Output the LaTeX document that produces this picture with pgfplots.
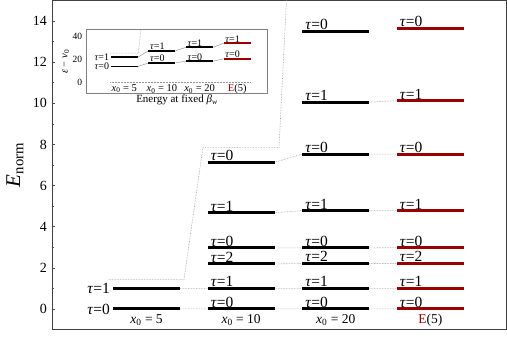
\documentclass[border=0pt]{standalone}
\usepackage{pgfplots}
\pgfplotsset{compat=1.18}
\usepackage{fontspec}
\setmainfont{Liberation Serif}
\definecolor{dred}{RGB}{153,0,0}
\definecolor{conn}{RGB}{150,150,150}
\newcommand{\ta}[1]{\textit{τ}=#1}
\newcommand{\xz}[1]{\textit{x}\textsubscript{0} = #1}
\tikzset{
 mt/.style={font=\fontsize{15.5}{17}\selectfont},
 mx/.style={font=\fontsize{13.5}{15}\selectfont},
 it/.style={font=\fontsize{10}{11}\selectfont},
 ix/.style={font=\fontsize{10.5}{12}\selectfont},
}
\begin{document}
\begin{tikzpicture}
\begin{axis}[
 at={(0,0)}, anchor=south west,
 scale only axis, width=454pt, height=329pt,
 xmin=-1, xmax=3.8, ymin=-1, ymax=15,
 xtick=\empty,
 ytick={0,2,...,14}, minor ytick={1,3,...,13},
 ytick pos=left,
 major tick length=3pt, minor tick length=2pt,
 tick style={black!70, line width=0.5pt},
 axis line style={black!75, line width=0.8pt},
 /pgf/number format/assume math mode=true,
 yticklabel style={font=\fontsize{14}{16}\selectfont, xshift=-1.5pt},
 ylabel={\textit{E}\textsubscript{norm}},
 ylabel style={font=\fontsize{21}{24}\selectfont, at={(axis description cs:-0.0815,0.5)}, anchor=center},
 unbounded coords=jump,
]
% threshold line
\addplot[conn, densely dotted, line width=0.6pt] coordinates {(-0.40,1.42) (0.395,1.42) (0.596,7.86) (1.40,7.86) (1.49,16)};
% connectors
\addplot[conn, densely dotted, line width=0.6pt] coordinates {
 (0.355,0) (0.645,0) (0.5,nan)
 (0.355,1) (0.645,1) (0.5,nan)
 (1.355,0) (1.645,0) (1.5,nan)
 (1.355,1) (1.645,1) (1.5,nan)
 (1.355,2.19) (1.645,2.21) (1.5,nan)
 (1.355,2.97) (1.645,2.97) (1.5,nan)
 (1.355,4.68) (1.645,4.78) (1.5,nan)
 (1.355,7.13) (1.645,7.53) (1.5,nan)
 (2.355,0) (2.645,0) (2.5,nan)
 (2.355,1) (2.645,1) (2.5,nan)
 (2.355,2.21) (2.645,2.21) (2.5,nan)
 (2.355,2.97) (2.645,2.98) (2.5,nan)
 (2.355,4.78) (2.645,4.78) (2.5,nan)
 (2.355,7.53) (2.645,7.53) (2.5,nan)
 (2.355,10.06) (2.645,10.13)};
% x0 = 5
\addplot[black, line width=3pt] coordinates {(-0.355,0) (0.355,0)};
\addplot[black, line width=3pt] coordinates {(-0.355,1) (0.355,1)};
% x0 = 10
\addplot[black, line width=3pt] coordinates {(0.645,0) (1.355,0)};
\addplot[black, line width=3pt] coordinates {(0.645,1) (1.355,1)};
\addplot[black, line width=3pt] coordinates {(0.645,2.19) (1.355,2.19)};
\addplot[black, line width=3pt] coordinates {(0.645,2.97) (1.355,2.97)};
\addplot[black, line width=3pt] coordinates {(0.645,4.68) (1.355,4.68)};
\addplot[black, line width=3pt] coordinates {(0.645,7.13) (1.355,7.13)};
% x0 = 20
\addplot[black, line width=3pt] coordinates {(1.645,0) (2.355,0)};
\addplot[black, line width=3pt] coordinates {(1.645,1) (2.355,1)};
\addplot[black, line width=3pt] coordinates {(1.645,2.21) (2.355,2.21)};
\addplot[black, line width=3pt] coordinates {(1.645,2.97) (2.355,2.97)};
\addplot[black, line width=3pt] coordinates {(1.645,4.78) (2.355,4.78)};
\addplot[black, line width=3pt] coordinates {(1.645,7.53) (2.355,7.53)};
\addplot[black, line width=3pt] coordinates {(1.645,10.06) (2.355,10.06)};
\addplot[black, line width=3pt] coordinates {(1.645,13.51) (2.355,13.51)};
% E(5)
\addplot[dred, line width=3pt] coordinates {(2.645,0) (3.355,0)};
\addplot[dred, line width=3pt] coordinates {(2.645,1) (3.355,1)};
\addplot[dred, line width=3pt] coordinates {(2.645,2.21) (3.355,2.21)};
\addplot[dred, line width=3pt] coordinates {(2.645,2.98) (3.355,2.98)};
\addplot[dred, line width=3pt] coordinates {(2.645,4.78) (3.355,4.78)};
\addplot[dred, line width=3pt] coordinates {(2.645,7.53) (3.355,7.53)};
\addplot[dred, line width=3pt] coordinates {(2.645,10.13) (3.355,10.13)};
\addplot[dred, line width=3pt] coordinates {(2.645,13.64) (3.355,13.64)};
% labels x0=5
\node[mt, anchor=east, inner sep=1pt, xshift=-2pt] at (axis cs:-0.355,0) {\ta{0}};
\node[mt, anchor=east, inner sep=1pt, xshift=-2pt] at (axis cs:-0.355,1) {\ta{1}};
% labels others
\foreach \xx/\yy/\tt in {0.645/0/0, 0.645/1/1, 0.645/2.19/2, 0.645/2.97/0, 0.645/4.68/1, 0.645/7.13/0,
 1.645/0/0, 1.645/1/1, 1.645/2.21/2, 1.645/2.97/0, 1.645/4.78/1, 1.645/7.53/0, 1.645/10.06/1, 1.645/13.51/0,
 2.645/0/0, 2.645/1/1, 2.645/2.21/2, 2.645/2.98/0, 2.645/4.78/1, 2.645/7.53/0, 2.645/10.13/1, 2.645/13.64/0}{
 \edef\temp{\noexpand\node[mt, anchor=base west, inner sep=0pt, xshift=3pt, yshift=1.6pt] at (axis cs:\xx,\yy) {\noexpand\ta{\tt}};}
 \temp
}
\node[mx] at (axis cs:0,-0.55) {\xz{5}};
\node[mx] at (axis cs:1,-0.55) {\xz{10}};
\node[mx] at (axis cs:2,-0.55) {\xz{20}};
\node[mx] at (axis cs:3,-0.55) {\textcolor{dred}{E}(5)};
\end{axis}
% inset
\begin{axis}[
 at={(34.7pt,235.7pt)}, anchor=south west,
 scale only axis, width=180.6pt, height=64pt,
 xmin=-1, xmax=3.8, ymin=-10.1, ymax=45.6,
 xtick=\empty, ytick={0,20,40}, ytick pos=left,
 tick style={draw=none},
 axis background/.style={fill=white},
 axis line style={black!50, line width=0.9pt},
 /pgf/number format/assume math mode=true,
 yticklabel style={font=\fontsize{9.5}{10}\selectfont, xshift=-1pt},
 ylabel={\textit{ε} − \textit{ν}\textsubscript{0}},
 ylabel style={font=\fontsize{10.5}{11}\selectfont, at={(axis description cs:-0.115,0.5)}, anchor=center},
 xlabel={Energy at fixed \textit{β}\textsubscript{\textit{w}}},
 xlabel style={font=\fontsize{11}{12}\selectfont, at={(axis description cs:0.5,-0.095)}, anchor=center},
 unbounded coords=jump,
]
\addplot[conn, densely dotted, line width=0.5pt] coordinates {(-0.38,0) (3.36,0)};
\addplot[conn, densely dotted, line width=0.5pt] coordinates {(-0.38,25.2) (0.37,25.2) (0.44,45.6) (0.45,50)};
\addplot[conn, line width=0.5pt] coordinates {
 (0.36,13.6) (0.64,16.8) (0.5,nan)
 (0.36,21.7) (0.64,27.3) (0.5,nan)
 (1.36,16.8) (1.64,18.3) (1.5,nan)
 (1.36,27.3) (1.64,30.4) (1.5,nan)
 (2.36,18.3) (2.64,20.3) (2.5,nan)
 (2.36,30.4) (2.64,33.9)};
\addplot[black, line width=1.8pt] coordinates {(-0.36,13.6) (0.36,13.6)};
\addplot[black, line width=1.8pt] coordinates {(-0.36,21.7) (0.36,21.7)};
\addplot[black, line width=1.8pt] coordinates {(0.64,16.8) (1.36,16.8)};
\addplot[black, line width=1.8pt] coordinates {(0.64,27.3) (1.36,27.3)};
\addplot[black, line width=1.8pt] coordinates {(1.64,18.3) (2.36,18.3)};
\addplot[black, line width=1.8pt] coordinates {(1.64,30.4) (2.36,30.4)};
\addplot[dred, line width=1.8pt] coordinates {(2.64,20.3) (3.36,20.3)};
\addplot[dred, line width=1.8pt] coordinates {(2.64,33.9) (3.36,33.9)};
\node[it, anchor=east, inner sep=0pt, xshift=-1.5pt] at (axis cs:-0.36,13.6) {\ta{0}};
\node[it, anchor=east, inner sep=0pt, xshift=-1.5pt] at (axis cs:-0.36,21.7) {\ta{1}};
\foreach \xx/\yy/\tt in {0.64/16.8/0, 0.64/27.3/1, 1.64/18.3/0, 1.64/30.4/1, 2.64/20.3/0, 2.64/33.9/1}{
 \edef\temp{\noexpand\node[it, anchor=base west, inner sep=0pt, xshift=1.5pt, yshift=1pt] at (axis cs:\xx,\yy) {\noexpand\ta{\tt}};}
 \temp
}
\node[ix] at (axis cs:0,-5.7) {\xz{5}};
\node[ix] at (axis cs:1,-5.7) {\xz{10}};
\node[ix] at (axis cs:2,-5.7) {\xz{20}};
\node[ix] at (axis cs:3,-5.7) {\textcolor{dred}{E}(5)};
\end{axis}
\pgfresetboundingbox
\path[use as bounding box] (-52pt,-23pt) rectangle (455pt,329.5pt);
\end{tikzpicture}
\end{document}
